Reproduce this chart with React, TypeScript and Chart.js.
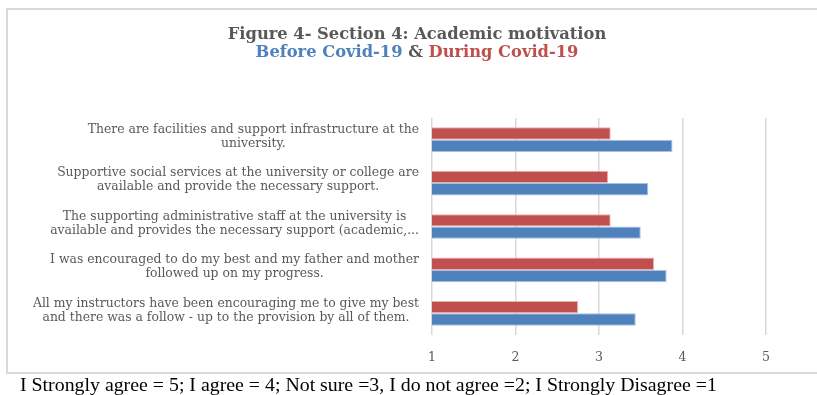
import React, { useEffect, useRef } from "react";
import { Chart, registerables } from "chart.js";

Chart.register(...registerables);

const categoryLines: string[][] = [
  ["There are facilities and support infrastructure at the", "university."],
  ["Supportive social services at the university or college are", "available and provide the necessary support."],
  ["The supporting administrative staff at the university is", "available and provides the necessary support (academic,..."],
  ["I was encouraged to do my best and my father and mother", "followed up on my progress."],
  ["All my instructors have been encouraging me to give my best", "and there was a follow - up to the provision by all of them."],
];
const categories: string[] = categoryLines.map((l) => l.join(" "));
const duringCovid: number[] = [3.14, 3.11, 3.14, 3.66, 2.75];
const beforeCovid: number[] = [3.88, 3.59, 3.5, 3.81, 3.44];
const xTicks: number[] = [1, 2, 3, 4, 5];

const titleLine1 = "Figure 4- Section 4: Academic motivation";
const titleBefore = "Before Covid-19";
const titleAmp = " & ";
const titleDuring = "During Covid-19";
const caption = "I Strongly agree = 5; I agree = 4; Not sure =3, I do not agree =2; I Strongly Disagree =1";

const BLUE = "#4F81BD";
const RED = "#C0504D";
const GRAY = "#595959";

const textPlugin = {
  id: "customText",
  afterDraw(chart: any) {
    const ctx = chart.ctx as CanvasRenderingContext2D;
    const yScale = chart.scales.y;
    const area = chart.chartArea;
    ctx.save();
    // category labels
    ctx.font = '12.4px "DejaVu Serif"';
    ctx.fillStyle = GRAY;
    ctx.textBaseline = "middle";
    ctx.textAlign = "center";
    const right = area.left - 13;
    categoryLines.forEach((lines, i) => {
      const cy = yScale.getPixelForValue(i) - 3;
      const maxW = Math.max(...lines.map((l) => ctx.measureText(l).width));
      const cx = right - maxW / 2;
      lines.forEach((ln, j) => {
        ctx.fillText(ln, cx, cy + (j - (lines.length - 1) / 2) * 14);
      });
    });
    // title
    const tx = chart.width / 2 + 8.5;
    ctx.textBaseline = "alphabetic";
    ctx.font = 'bold 16.3px "DejaVu Serif"';
    ctx.fillStyle = GRAY;
    ctx.textAlign = "center";
    ctx.fillText(titleLine1, tx, 39);
    const wB = ctx.measureText(titleBefore).width;
    const wA = ctx.measureText(titleAmp).width;
    const wD = ctx.measureText(titleDuring).width;
    let x = tx - (wB + wA + wD) / 2;
    ctx.textAlign = "left";
    ctx.fillStyle = BLUE;
    ctx.fillText(titleBefore, x, 56.5);
    x += wB;
    ctx.fillStyle = GRAY;
    ctx.fillText(titleAmp, x, 56.5);
    x += wA;
    ctx.fillStyle = RED;
    ctx.fillText(titleDuring, x, 56.5);
    ctx.restore();
  },
};

export default function App() {
  const ref = useRef<HTMLCanvasElement>(null);
  useEffect(() => {
    if (!ref.current) return;
    const chart = new Chart(ref.current, {
      type: "bar",
      data: {
        labels: categories,
        datasets: [
          {
            label: "During Covid-19",
            data: duringCovid,
            backgroundColor: RED,
            borderColor: "rgba(230,170,168,0.9)",
            borderWidth: 1,
            categoryPercentage: 0.57,
            barPercentage: 1,
          },
          {
            label: "Before Covid-19",
            data: beforeCovid,
            backgroundColor: BLUE,
            borderColor: "rgba(160,185,220,0.9)",
            borderWidth: 1,
            categoryPercentage: 0.57,
            barPercentage: 1,
          },
        ],
      },
      options: {
        indexAxis: "y",
        responsive: false,
        animation: false,
        layout: { padding: { left: 432, right: 51, top: 118, bottom: 15 } },
        plugins: {
          legend: { display: false },
          title: { display: false },
          tooltip: { enabled: false },
        },
        scales: {
          x: {
            min: xTicks[0],
            max: xTicks[xTicks.length - 1],
            afterBuildTicks: (scale: any) => {
              scale.ticks = xTicks.map((v) => ({ value: v }));
            },
            grid: { color: "#d9d9d9", lineWidth: 1.5, drawTicks: false },
            border: { display: false },
            ticks: {
              padding: 15,
              color: GRAY,
              font: { family: '"DejaVu Serif"', size: 12.5 },
            },
          },
          y: { display: false },
        },
      },
      plugins: [textPlugin],
    });
    return () => chart.destroy();
  }, []);

  return (
    <div style={{ position: "absolute", left: 0, top: 0, width: 817, height: 395, overflow: "hidden", background: "#fff" }}>
      <div
        style={{
          position: "absolute",
          left: 6,
          top: 8,
          width: 900,
          height: 366,
          boxSizing: "border-box",
          borderTop: "2px solid #d9d9d9",
          borderLeft: "2px solid #d9d9d9",
          borderBottom: "2px solid #d9d9d9",
        }}
      />
      <canvas ref={ref} width={817} height={395} style={{ position: "absolute", left: 0, top: 0 }} />
      <div
        style={{
          position: "absolute",
          left: 20,
          top: 374.5,
          fontFamily: '"Liberation Serif"',
          fontSize: 19.85,
          lineHeight: "19px",
          color: "#000",
          whiteSpace: "nowrap",
        }}
      >
        {caption}
      </div>
    </div>
  );
}
